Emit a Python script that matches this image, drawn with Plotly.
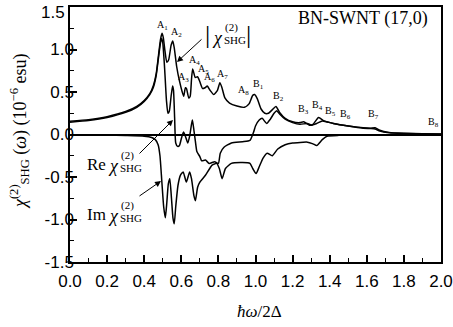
import plotly.graph_objects as go

# ---------------- data ----------------
x_abs = [0.00, 0.10, 0.20, 0.30, 0.36, 0.40, 0.43, 0.45, 0.465, 0.478, 0.488, 0.496, 0.503, 0.512,
         0.522, 0.532, 0.545, 0.554, 0.562, 0.575, 0.590, 0.605, 0.613, 0.622, 0.628, 0.640, 0.648,
         0.655, 0.661, 0.668, 0.675, 0.688, 0.700, 0.715, 0.728, 0.740, 0.755, 0.775, 0.795, 0.808,
         0.818, 0.835, 0.86, 0.90, 0.94, 0.965, 0.985, 0.995, 1.01, 1.03, 1.05, 1.07, 1.09, 1.11,
         1.13, 1.16, 1.20, 1.24, 1.26, 1.29, 1.31, 1.34, 1.37, 1.42, 1.50, 1.58, 1.62, 1.645, 1.67,
         1.72, 1.80, 1.90, 2.00]
chi_abs = [0.155, 0.175, 0.21, 0.27, 0.33, 0.40, 0.48, 0.58, 0.72, 0.95, 1.12, 1.19, 1.14, 0.98,
           0.85, 0.88, 1.05, 1.10, 1.02, 0.80, 0.63, 0.50, 0.45, 0.55, 0.54, 0.43, 0.45,
           0.65, 0.77, 0.72, 0.67, 0.68, 0.62, 0.54, 0.55, 0.57, 0.52, 0.47, 0.52, 0.61,
           0.56, 0.43, 0.37, 0.335, 0.32, 0.36, 0.46, 0.47, 0.42, 0.30, 0.25, 0.25, 0.29, 0.33,
           0.26, 0.19, 0.15, 0.14, 0.15, 0.11, 0.12, 0.20, 0.16, 0.13, 0.10, 0.08, 0.075, 0.08, 0.05,
           0.025, 0.015, 0.01, 0.005]

x_re = [0.00, 0.10, 0.20, 0.30, 0.36, 0.40, 0.43, 0.45, 0.465, 0.478, 0.488, 0.494, 0.500, 0.510,
        0.520, 0.528, 0.535, 0.545, 0.553, 0.558, 0.564, 0.570, 0.580, 0.590, 0.600, 0.612, 0.622,
        0.635, 0.645, 0.655, 0.660, 0.668, 0.676, 0.684, 0.70, 0.71, 0.73, 0.75, 0.78, 0.80, 0.81,
        0.83, 0.87, 0.93, 0.97, 0.99, 1.00, 1.02, 1.036, 1.06, 1.08, 1.10, 1.115, 1.13, 1.16, 1.20,
        1.24, 1.28, 1.30, 1.33, 1.36, 1.42, 1.50, 1.58, 1.62, 1.645, 1.67, 1.72, 1.80, 2.00]
chi_re = [0.145, 0.165, 0.20, 0.26, 0.32, 0.39, 0.47, 0.56, 0.70, 0.92, 1.08, 1.13, 1.08, 0.78,
          0.40, 0.25, 0.27, 0.45, 0.57, 0.52, 0.20, -0.10, -0.14, -0.13, -0.05, 0.03, -0.02,
          -0.10, -0.02, 0.12, 0.17, 0.05, -0.08, -0.20, -0.26, -0.31, -0.30, -0.34, -0.32, -0.34, -0.22,
          -0.15, -0.10, -0.085, -0.07, 0.03, 0.10, 0.17, 0.19, 0.13, 0.18, 0.25, 0.28, 0.24, 0.18, 0.14,
          0.12, 0.13, 0.11, 0.13, 0.16, 0.13, 0.10, 0.075, 0.07, 0.065, 0.04, 0.02, 0.012, 0.004]

x_im = [0.00, 0.20, 0.30, 0.40, 0.44, 0.46, 0.475, 0.485, 0.495, 0.505, 0.514, 0.522, 0.530, 0.538,
        0.547, 0.555, 0.562, 0.570, 0.582, 0.595, 0.610, 0.627, 0.645, 0.655, 0.668, 0.676, 0.688,
        0.70, 0.73, 0.766, 0.79, 0.805, 0.82, 0.838, 0.87, 0.93, 0.97, 0.985, 1.003, 1.02, 1.04,
        1.063, 1.09, 1.12, 1.16, 1.20, 1.28, 1.31, 1.33, 1.36, 1.385, 1.45, 1.60, 2.00]
chi_im = [-0.005, -0.008, -0.012, -0.02, -0.035, -0.06, -0.12, -0.25, -0.55, -0.85, -0.98, -0.80,
          -0.58, -0.52, -0.75, -0.98, -1.05, -0.85, -0.60, -0.48, -0.44, -0.56, -0.44, -0.52, -0.72,
          -0.78, -0.62, -0.56, -0.48, -0.36, -0.34, -0.40, -0.52, -0.40, -0.34, -0.33, -0.34, -0.40,
          -0.46, -0.38, -0.28, -0.22, -0.25, -0.17, -0.12, -0.10, -0.09, -0.11, -0.13, -0.06, -0.02,
          -0.01, -0.005, 0.0]

peak_names = ["A<sub>1</sub>", "A<sub>2</sub>", "A<sub>3</sub>", "A<sub>4</sub>", "A<sub>5</sub>",
              "A<sub>6</sub>", "A<sub>7</sub>", "A<sub>8</sub>", "B<sub>1</sub>", "B<sub>2</sub>",
              "B<sub>3</sub>", "B<sub>4</sub>", "B<sub>5</sub>", "B<sub>6</sub>", "B<sub>7</sub>",
              "B<sub>8</sub>"]
peak_x = [0.497, 0.573, 0.611, 0.670, 0.719, 0.751, 0.822, 0.935, 1.016, 1.124, 1.259, 1.335,
          1.405, 1.486, 1.638, 1.957]
peak_y = [1.28, 1.196, 0.673, 0.875, 0.768, 0.673, 0.708, 0.518, 0.589, 0.446, 0.292, 0.339,
          0.268, 0.232, 0.232, 0.137]

x_tickvals = [0.0, 0.2, 0.4, 0.6, 0.8, 1.0, 1.2, 1.4, 1.6, 1.8, 2.0]
x_ticktext = ["0.0", "0.2", "0.4", "0.6", "0.8", "1.0", "1.2", "1.4", "1.6", "1.8", "2.0"]
y_tickvals = [-1.5, -1.0, -0.5, 0.0, 0.5, 1.0, 1.5]
y_ticktext = ["-1.5", "-1.0", "-0.5", "0.0", "0.5", "1.0", ""]
top_label = "1.5"

# ---------------- layout geometry (page pixels; body margin removed by post_script) ----------------
W, H = 453, 327
ML, MR, MT, MB = 70, 12, 7, 65
PW, PH = W - ML - MR, H - MT - MB
XR, YR = (0.0, 2.0), (-1.5, 1.5)
TOP = MT
BOT = MT + PH


def dx(px):
    return XR[0] + (px - ML) / PW * (XR[1] - XR[0])


def dy(py):
    return YR[1] - (py - TOP) / PH * (YR[1] - YR[0])


def paper_x(px):
    return (px - ML) / PW


def paper_y(py):
    return (BOT - py) / PH


SERIF = "Liberation Serif, Times New Roman, serif"
SANS = "Liberation Sans, Arial, sans-serif"
BLACK = "black"

fig = go.Figure()
line = dict(color=BLACK, width=1.5, shape="spline", smoothing=0.5)
for xs, ys, nm in [(x_abs, chi_abs, "|chi|"), (x_re, chi_re, "Re"), (x_im, chi_im, "Im")]:
    fig.add_trace(go.Scatter(x=xs, y=ys, mode="lines", line=line, name=nm, hoverinfo="skip"))

ann = []
for t, px_, py_ in zip(peak_names, peak_x, peak_y):
    ann.append(dict(x=px_, y=py_, text=t, showarrow=False, font=dict(family=SERIF, size=10, color=BLACK)))

ann.append(dict(x=dx(363), y=dy(18), text="BN-SWNT (17,0)", showarrow=False,
                font=dict(family=SERIF, size=18, color=BLACK)))


def chi_label(prefix, cx, cy, px_prefix=None):
    items = []
    if prefix:
        items.append(dict(x=dx(px_prefix), y=dy(cy - 2), text=prefix, showarrow=False,
                          font=dict(family=SERIF, size=17, color=BLACK)))
    items.append(dict(x=dx(cx), y=dy(cy), text="<i>χ</i>", showarrow=False,
                      font=dict(family=SERIF, size=18, color=BLACK)))
    items.append(dict(x=dx(cx + 6), y=dy(cy - 11), text="(2)", showarrow=False, xanchor="left",
                      font=dict(family=SERIF, size=11, color=BLACK)))
    items.append(dict(x=dx(cx + 5), y=dy(cy + 2), text="SHG", showarrow=False, xanchor="left",
                      font=dict(family=SERIF, size=11, color=BLACK)))
    return items


ann += chi_label(None, 217, 38)
ann.append(dict(x=dx(207), y=dy(34), text="|", showarrow=False, font=dict(family=SERIF, size=26, color=BLACK)))
ann.append(dict(x=dx(248), y=dy(34), text="|", showarrow=False, font=dict(family=SERIF, size=26, color=BLACK)))
ann += chi_label("Re", 113, 166, 96)
ann += chi_label("Im", 113, 216, 96)

for (tx, ty, hx, hy) in [(203, 38, 177, 62), (138, 155, 173, 120), (138, 197, 161, 181)]:
    ann.append(dict(x=dx(hx), y=dy(hy), ax=dx(tx), ay=dy(ty), axref="x", ayref="y", text="",
                    showarrow=True, arrowhead=2, arrowsize=1.2, arrowwidth=1, arrowcolor=BLACK,
                    standoff=0))

# top y tick label (drawn slightly lower, as in the reference)
ann.append(dict(xref="paper", yref="paper", x=paper_x(67), y=paper_y(12), xanchor="right", yanchor="middle",
                text=top_label, showarrow=False, font=dict(family=SANS, size=17, color=BLACK)))

# axis titles
ann.append(dict(xref="paper", yref="paper", x=paper_x(19), y=paper_y(132), xanchor="center", yanchor="middle",
                text="<i>χ</i><sup>(2)</sup><sub>SHG</sub> (<i>ω</i>) (10<sup>−6</sup> esu)",
                textangle=-90, showarrow=False, font=dict(family=SERIF, size=18, color=BLACK)))
ann.append(dict(xref="paper", yref="paper", x=paper_x(259), y=paper_y(311), xanchor="center", yanchor="middle",
                text="<i>ħω</i>/2Δ", showarrow=False, font=dict(family=SERIF, size=17, color=BLACK)))

fig.update_layout(
    width=W, height=H,
    margin=dict(l=ML, r=MR, t=MT, b=MB, autoexpand=False),
    paper_bgcolor="white", plot_bgcolor="white",
    showlegend=False,
    annotations=ann,
    xaxis=dict(range=list(XR), automargin=False, showgrid=False, zeroline=False, showline=True,
               linecolor=BLACK, linewidth=1.5, mirror=True, ticks="inside", ticklen=7, tickwidth=1.5,
               tickcolor=BLACK, tickvals=x_tickvals, ticktext=x_ticktext, ticklabelstandoff=3,
               tickfont=dict(family=SANS, size=17, color=BLACK),
               minor=dict(dtick=0.1, ticks="inside", ticklen=4, tickwidth=1.2, tickcolor=BLACK, showgrid=False)),
    yaxis=dict(range=list(YR), automargin=False, showgrid=False, zeroline=True, zerolinecolor=BLACK,
               zerolinewidth=2, showline=True, linecolor=BLACK, linewidth=1.5, mirror=True, ticks="inside",
               ticklen=7, tickwidth=1.5, tickcolor=BLACK, tickvals=y_tickvals, ticktext=y_ticktext,
               ticklabelstandoff=-9,
               tickfont=dict(family=SANS, size=17, color=BLACK),
               minor=dict(dtick=0.25, ticks="inside", ticklen=4, tickwidth=1.2, tickcolor=BLACK, showgrid=False)),
)

fig.write_html("out.html", config={"displayModeBar": False},
               post_script="document.body.style.margin='0';document.body.style.overflow='hidden';")
